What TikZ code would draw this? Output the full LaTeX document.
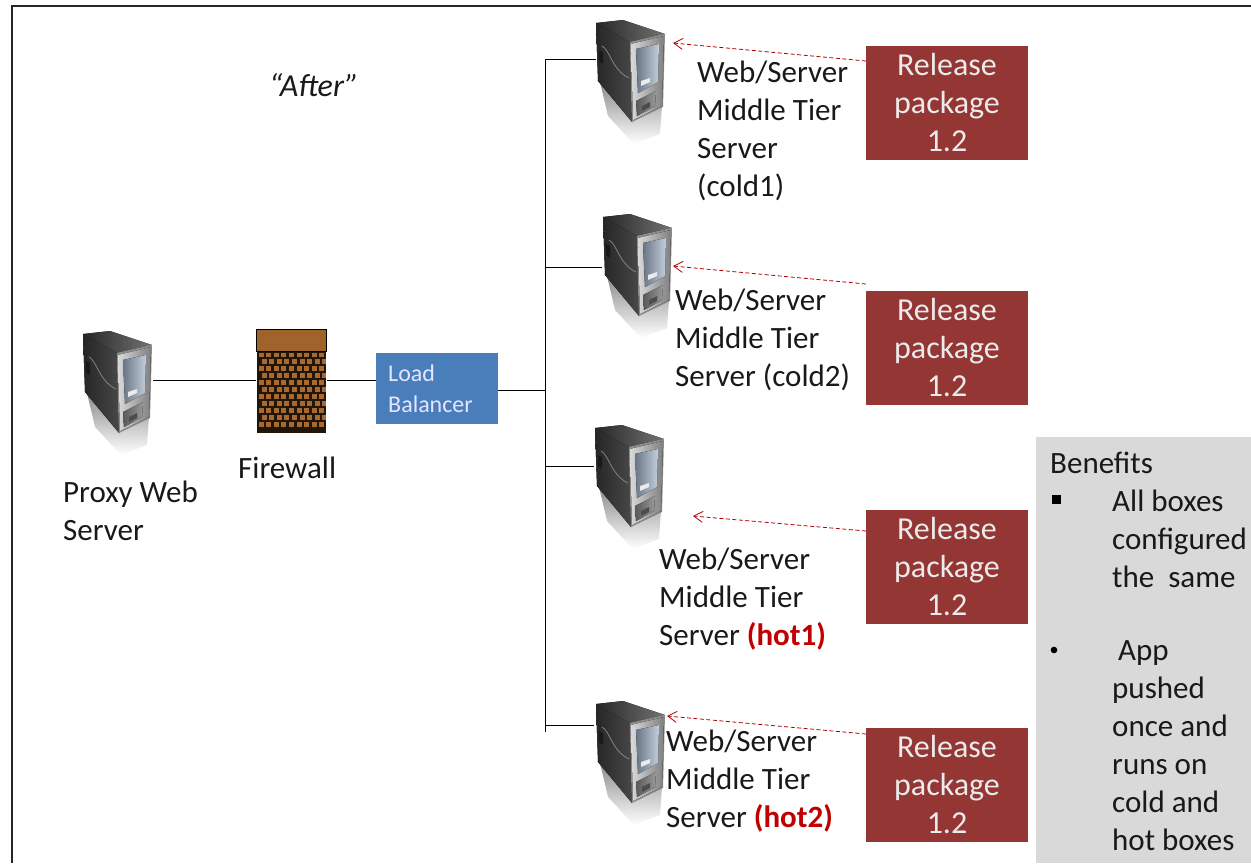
\documentclass[tikz,border=0pt]{standalone}
\usepackage{fontspec}
\setmainfont{Carlito}
\usetikzlibrary{arrows.meta,fadings}
\definecolor{relbox}{HTML}{943634}
\definecolor{lbblue}{HTML}{4A7EBB}
\definecolor{benbg}{HTML}{D9D9D9}
\definecolor{brick}{HTML}{A9682E}
\definecolor{hotred}{HTML}{C00000}
\definecolor{panelA}{HTML}{6A7686}
\definecolor{panelB}{HTML}{C3CEDC}
\tikzset{
  x=1pt,y=-1pt,
  lab/.style={font=\fontsize{31}{38}\selectfont,align=left,anchor=north west,inner sep=0pt,text=black!90},
  relnode/.style={fill=relbox,text=white!92!black,minimum width=162pt,minimum height=114pt,inner sep=0pt,align=center,font=\fontsize{32}{38}\selectfont},
  conn/.style={draw=black,line width=1pt},
  push/.style={draw=red!70!black,line width=0.8pt,dash pattern=on 4pt off 2.5pt,-{Straight Barb[length=9pt,width=11pt]}},
  server/.pic={
    \fill[black!45,path fading=south] (4,62)--(36,100)--(66,86)--(64,114)--(38,124)--(12,96)--cycle;
    \fill[left color=black!85,right color=black!72] (0,3)--(34,22)--(36,102)--(2,61)--cycle;
    \draw[black!45,line width=.7pt] (6,26) .. controls (14,30) and (16,50) .. (33,58);
    \fill[black!90] (3,30)--(7,32)--(7,44)--(3,41)--cycle;
    \fill[left color=black!85,right color=black!55] (0,3)--(27,0)--(69,14)--(34,22)--cycle;
    \fill[black!45] (34,22)--(69,14)--(67,87)--(36,102)--cycle;
    \fill[left color=black!15,right color=black!50] (35,24)--(68,16)--(66,86)--(37,100)--cycle;
    \fill[left color=panelA,right color=panelB] (40,29)--(63,24)--(62,62)--(42,73)--cycle;
    \fill[white!92!black] (45,61)--(54,58)--(54,62)--(45,66)--cycle;
    \fill[left color=black!65,right color=black!40] (40,81)--(60,71)--(59,86)--(41,96)--cycle;
    \fill[black!70] (46,86)--(54,82)--(54,87)--(46,91)--cycle;
  }
}
\newcommand{\brickwall}[4]{%
  \fill[black!80!brick] (#1,#2) rectangle (#3,#4);
  \foreach \r in {0,...,10}{%
    \pgfmathsetmacro{\yy}{#2+1.5+\r*6.95}
    \pgfmathsetmacro{\off}{mod(\r,2)==0 ? 1.5 : 4.5}
    \foreach \c in {0,...,8}{%
      \pgfmathsetmacro{\xx}{#1+\off+\c*7.6}
      \pgfmathsetmacro{\xe}{min(\xx+5,#3)}
      \fill[brick] (\xx,\yy) rectangle (\xe,\yy+4.6);
    }
  }
}
\begin{document}
\begin{tikzpicture}
\useasboundingbox (0,0) rectangle (1251,863);
\fill[white] (0,0) rectangle (1251,863);
\draw[black!85,line width=1.6pt] (12,863)--(12,6)--(1251,6);
\node[fill=benbg,minimum width=215pt,minimum height=426pt,inner sep=0pt,anchor=north west] (ben) at (1036,437) {};
\coordinate (bus1) at (545,59);
\coordinate (bus2) at (545,267);
\coordinate (bus3) at (545,466);
\coordinate (bus4) at (545,725);
\coordinate (busend) at (545,732);
\coordinate (busmid) at (545,390);
\coordinate (s1w) at (596,59);
\coordinate (s2w) at (602,267);
\coordinate (s3w) at (594,466);
\coordinate (s4w) at (594,725);
\coordinate (pr) at (153,380);
\coordinate (fwl) at (256,380);
\coordinate (fwr) at (327,380);
\node[fill=lbblue,minimum width=122pt,minimum height=71pt,inner sep=0pt,anchor=north west] (lb) at (376,353) {};
\node[anchor=north west,inner sep=0pt,text=white!90!blue,align=left,font=\fontsize{24}{31}\selectfont] (lbt) at (388,365) {Load\\Balancer};
\draw[conn] (pr)--(fwl);
\draw[conn] (fwr)--(lb.west|-fwr);
\draw[conn] (lb.east|-busmid)--(busmid);
\draw[conn] (bus1)--(busend);
\draw[conn] (bus1)--(s1w);
\draw[conn] (bus2)--(s2w);
\draw[conn] (bus3)--(s3w);
\draw[conn] (bus4)--(s4w);
\pic at (83,331) {server};
\pic at (596,20) {server};
\pic at (603,214) {server};
\pic at (595,425) {server};
\pic at (596,701) {server};
\brickwall{257}{351}{326}{433}
\node[fill=brick!95!black,draw=black,line width=1pt,minimum width=70pt,minimum height=22pt,inner sep=0pt,anchor=north west] (fw) at (256,329) {};
\node[font=\itshape\fontsize{32}{32}\selectfont,text=black!90,anchor=center] (after) at (314,85) {“After”};
\node[lab] (proxy) at (63,481) {Proxy Web\\Server};
\node[lab] (fwt) at (238,457) {Firewall};
\node[lab] (t1) at (697,61) {Web/Server\\Middle Tier\\Server\\(cold1)};
\node[lab] (t2) at (675,289) {Web/Server\\Middle Tier\\Server (cold2)};
\node[lab] (t3) at (659,548) {Web/Server\\Middle Tier\\Server {\bfseries\color{hotred}(hot1)}};
\node[lab] (t4) at (666,730) {Web/Server\\Middle Tier\\Server {\bfseries\color{hotred}(hot2)}};
\node[relnode] (r1) at (947,103) {Release\\package\\1.2};
\node[relnode] (r2) at (947,348) {Release\\package\\1.2};
\node[relnode] (r3) at (947,567) {Release\\package\\1.2};
\node[relnode] (r4) at (947,785) {Release\\package\\1.2};
\coordinate (a1) at (673,43);
\coordinate (a2) at (673,266);
\coordinate (a3) at (693,516);
\coordinate (a4) at (667,716);
\draw[push] (r1.west|-0,61)--(a1);
\draw[push] (r2.west|-0,284)--(a2);
\draw[push] (r3.west|-0,531)--(a3);
\draw[push] (r4.west|-0,734)--(a4);
\node[lab] (bt) at (1050,452) {Benefits};
\fill[black] (1052,495) rectangle (1061,504);
\node[lab,align=left] (b1) at (1112,490) {All boxes\\configured\\the\ \ same};
\fill[black] (1054,650) circle (3.3);
\node[lab,anchor=north west] (b2a) at (1118,640) {App};
\node[lab] (b2) at (1112,677) {pushed\\once and\\runs on\\cold and\\hot boxes};
\end{tikzpicture}
\end{document}
